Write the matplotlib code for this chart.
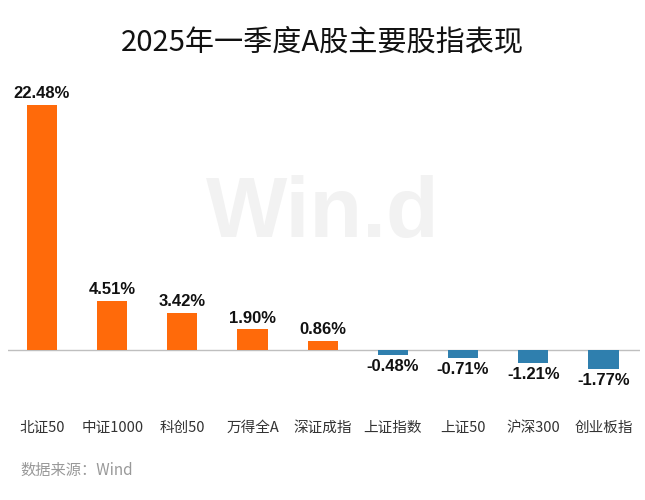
import matplotlib
matplotlib.use("Agg")
import matplotlib.pyplot as plt
import matplotlib.transforms as mtransforms

categories = ["北证50", "中证1000", "科创50", "万得全A", "深证成指", "上证指数", "上证50", "沪深300", "创业板指"]
returns = [22.48, 4.51, 3.42, 1.90, 0.86, -0.48, -0.71, -1.21, -1.77]

plt.rcParams['font.family'] = ['Noto Sans CJK SC', 'DejaVu Sans']

fig = plt.figure(figsize=(6.45, 5.0), dpi=100)
ax = fig.add_axes([8 / 645, 0.2, 632 / 645, 0.64])

colors = ["#FF6A0A" if v >= 0 else "#2F7FAE" for v in returns]
x = list(range(len(categories)))
ax.bar(x, returns, width=0.43, color=colors, zorder=2)
ax.axhline(0, color="#BFBFBF", linewidth=1, zorder=1)

ax.set_xlim(-0.484, 8.52)
ax.set_ylim(-4.59, 24.8)
ax.axis("off")

for xi, v in zip(x, returns):
    off = 0.35 if v >= 0 else -0.35
    ax.text(xi, v + off, f"{v:.2f}%", ha="center", va="bottom" if v >= 0 else "top",
            fontsize=12, fontweight="bold", family=["Liberation Sans", "DejaVu Sans"], color="#111111")

trans = mtransforms.blended_transform_factory(ax.transData, ax.transAxes)
for xi, c in zip(x, categories):
    ax.text(xi, -0.0875, c, ha="center", va="center", fontsize=10.5, color="#333333", transform=trans)

fig.text(0.5, 1 - 42 / 500, "2025年一季度A股主要股指表现", ha="center", va="center", fontsize=21, color="#111111")
fig.text(20 / 645, 1 - 470 / 500, "数据来源：Wind", ha="left", va="center", fontsize=11, color="#999999")
fig.text(0.5, 1 - 215 / 500, "Win.d", ha="center", va="center", fontsize=62, fontweight="bold",
         color="#F2F2F2", family=["Liberation Sans", "DejaVu Sans"], zorder=0)

fig.savefig("out.png", dpi=100)
